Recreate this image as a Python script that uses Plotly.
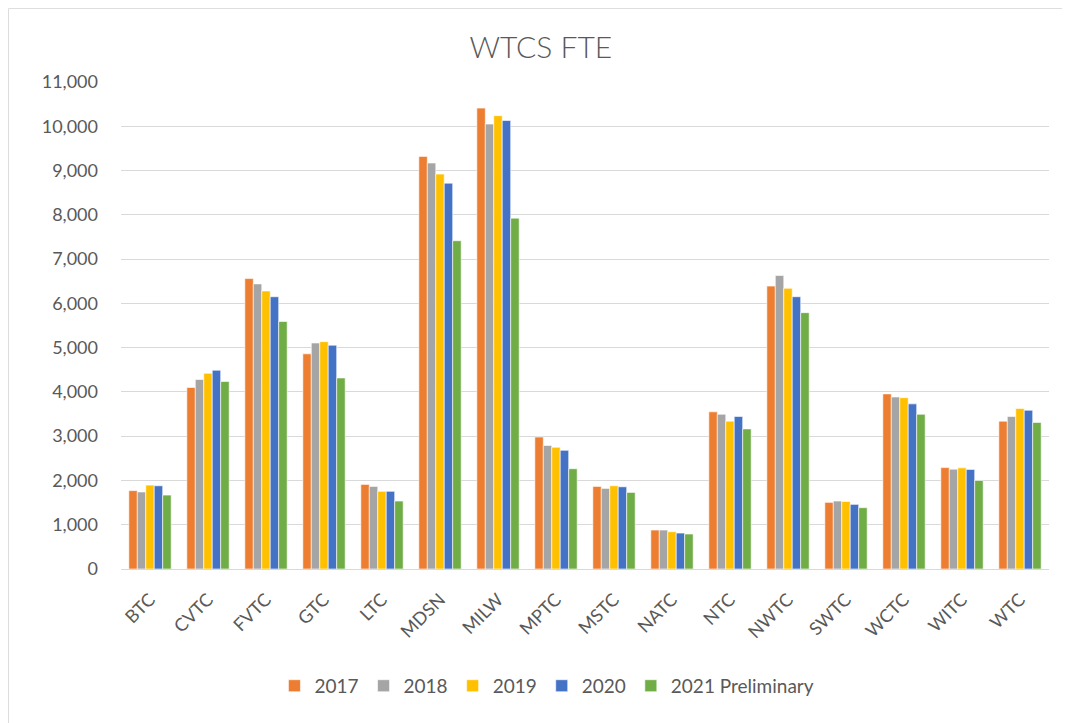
import plotly.graph_objects as go

categories = ["BTC", "CVTC", "FVTC", "GTC", "LTC", "MDSN", "MILW", "MPTC",
              "MSTC", "NATC", "NTC", "NWTC", "SWTC", "WCTC", "WITC", "WTC"]

fte_2017 = [1770, 4100, 6560, 4860, 1910, 9320, 10410, 2980, 1865, 880, 3550, 6390, 1505, 3955, 2290, 3340]
fte_2018 = [1740, 4280, 6440, 5105, 1865, 9170, 10050, 2790, 1820, 880, 3495, 6630, 1535, 3885, 2255, 3445]
fte_2019 = [1895, 4420, 6280, 5135, 1755, 8920, 10240, 2750, 1880, 842, 3340, 6340, 1525, 3870, 2285, 3625]
fte_2020 = [1880, 4490, 6150, 5055, 1755, 8715, 10130, 2680, 1857, 812, 3445, 6150, 1460, 3730, 2250, 3585]
fte_2021 = [1670, 4235, 5590, 4315, 1535, 7415, 7925, 2265, 1730, 790, 3165, 5790, 1385, 3495, 2000, 3310]

series_names = ["2017", "2018", "2019", "2020", "2021 Preliminary"]
series_values = [fte_2017, fte_2018, fte_2019, fte_2020, fte_2021]
colors = ["#ED7D31", "#A5A5A5", "#FFC000", "#4472C4", "#70AD47"]

tick_vals = list(range(0, 11001, 1000))
tick_text = [f"{v:,}" for v in tick_vals]

fig = go.Figure()
for name, vals, col in zip(series_names, series_values, colors):
    fig.add_trace(go.Bar(
        x=categories, y=vals, name=name,
        marker=dict(color=col, line=dict(color="white", width=0.6)),
    ))

font_family = "Lato, 'Open Sans', sans-serif"
light_family = "'Lato Light', Lato, sans-serif"
text_color = "#595959"

fig.update_layout(
    barmode="group",
    bargap=0.27,
    bargroupgap=0.0,
    width=1070, height=723,
    margin=dict(l=113, r=29, t=74, b=162),
    paper_bgcolor="white",
    plot_bgcolor="white",
    title=dict(text="WTCS FTE", x=0.498, xanchor="center", y=0.945, yanchor="middle",
               font=dict(family=light_family, size=30, color=text_color)),
    font=dict(family=font_family, size=18, color=text_color),
    legend=dict(orientation="h", x=0.459, xanchor="center", y=-0.24, yanchor="middle",
                font=dict(family=font_family, size=19, color=text_color),
                traceorder="normal", itemwidth=30),
    xaxis=dict(tickangle=-45, showgrid=False, showline=True, linecolor="#d9d9d9",
               linewidth=1, ticks="", ticklabelstandoff=12,
               tickfont=dict(family=font_family, size=18, color=text_color)),
    yaxis=dict(range=[0, 11000], tickvals=tick_vals, ticktext=tick_text,
               showgrid=True, gridcolor="#d9d9d9", gridwidth=1, zeroline=False,
               showline=False, ticks="", ticklabelstandoff=22,
               tickfont=dict(family=font_family, size=18, color=text_color)),
    shapes=[
        dict(type="line", xref="paper", yref="paper", x0=-0.1212, x1=-0.1212, y0=-0.4, y1=1.151,
             line=dict(color="#dddddd", width=1)),
        dict(type="line", xref="paper", yref="paper", x0=-0.1212, x1=1.1, y0=1.151, y1=1.151,
             line=dict(color="#dddddd", width=1)),
    ],
)

fig.write_html("out.html")
